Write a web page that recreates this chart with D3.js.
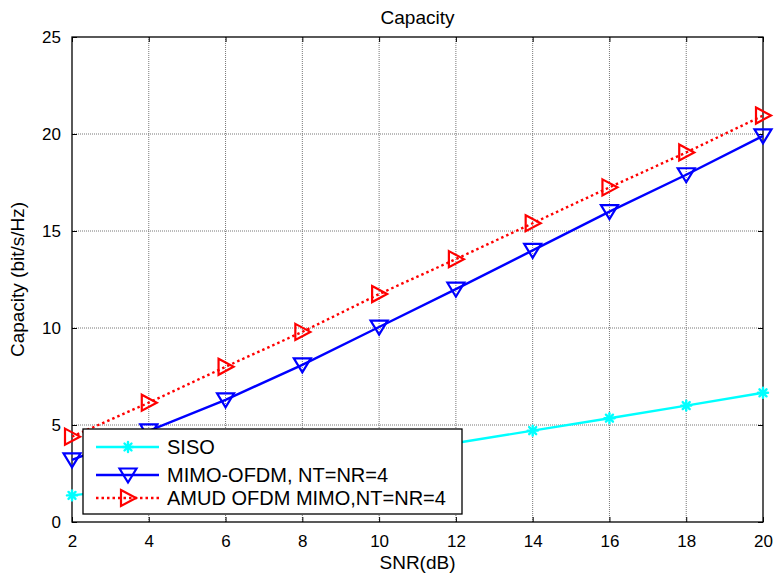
<!DOCTYPE html>
<html>
<head>
<meta charset="utf-8">
<script src="https://cdn.jsdelivr.net/npm/d3@7"></script>
<style>
  html, body { margin: 0; padding: 0; background: #fff; }
  svg { display: block; font-family: Arial, "Liberation Sans", Helvetica, sans-serif; }
</style>
</head>
<body>
<svg id="chart" width="774" height="574"></svg>
<script>
// ---- data ----
const snr = [2, 4, 6, 8, 10, 12, 14, 16, 18, 20];
const siso = [1.37, 1.81, 2.32, 2.87, 3.46, 4.07, 4.71, 5.35, 6.00, 6.66];
const mimoOfdm = [3.2, 4.7, 6.3, 8.1, 10.05, 12.0, 14.0, 16.0, 17.9, 19.9];
const amud = [4.4, 6.15, 8.0, 9.8, 11.75, 13.55, 15.4, 17.25, 19.05, 20.95];
const xTicks = [2, 4, 6, 8, 10, 12, 14, 16, 18, 20];
const yTicks = [0, 5, 10, 15, 20, 25];
const seriesNames = ["SISO", "MIMO-OFDM, NT=NR=4", "AMUD OFDM MIMO,NT=NR=4"];
const titleText = "Capacity";
const xLabel = "SNR(dB)";
const yLabel = "Capacity (bit/s/Hz)";

// ---- layout ----
const svg = d3.select("#chart");
const L = 72, R = 763, T = 37, B = 522;
const x = d3.scaleLinear().domain([2, 20]).range([L, R]);
const y = d3.scaleLinear().domain([0, 25]).range([B, T]);

// grid
const grid = svg.append("g");
grid.selectAll("line.gx").data(xTicks.slice(1, -1)).enter().append("line")
  .attr("x1", d => x(d)).attr("x2", d => x(d)).attr("y1", T).attr("y2", B)
  .attr("stroke", "#777").attr("stroke-width", 1).attr("stroke-dasharray", "1,1");
grid.selectAll("line.gy").data(yTicks.slice(1, -1)).enter().append("line")
  .attr("x1", L).attr("x2", R).attr("y1", d => y(d)).attr("y2", d => y(d))
  .attr("stroke", "#777").attr("stroke-width", 1).attr("stroke-dasharray", "1,1");

// axes with inward ticks
const fs = 17;
const xAxisB = d3.axisBottom(x).tickValues(xTicks).tickSizeInner(-5).tickSizeOuter(0).tickPadding(13);
const gxb = svg.append("g").attr("transform", `translate(0,${B})`).call(xAxisB);
const xAxisT = d3.axisTop(x).tickValues(xTicks).tickSizeInner(-5).tickSizeOuter(0).tickFormat("");
const gxt = svg.append("g").attr("transform", `translate(0,${T})`).call(xAxisT);
const yAxisL = d3.axisLeft(y).tickValues(yTicks).tickSizeInner(-5).tickSizeOuter(0).tickPadding(11);
const gyl = svg.append("g").attr("transform", `translate(${L},0)`).call(yAxisL);
const yAxisR = d3.axisRight(y).tickValues(yTicks).tickSizeInner(-5).tickSizeOuter(0).tickFormat("");
const gyr = svg.append("g").attr("transform", `translate(${R},0)`).call(yAxisR);
[gxb, gxt, gyl, gyr].forEach(g => {
  g.select(".domain").remove();
  g.selectAll(".tick line").attr("stroke", "#000").attr("stroke-width", 1);
  g.selectAll("text").attr("font-size", fs).attr("fill", "#000")
    .attr("font-family", "Arial, 'Liberation Sans', sans-serif");
});
// box
svg.append("rect").attr("x", L).attr("y", T).attr("width", R - L).attr("height", B - T)
  .attr("fill", "none").attr("stroke", "#000").attr("stroke-width", 1.3);

// series
const line = d3.line().x(d => x(d[0])).y(d => y(d[1]));
const series = [
  { name: seriesNames[0], vals: siso, color: "#00FFFF", dash: null, marker: "star" },
  { name: seriesNames[1], vals: mimoOfdm, color: "#0000FF", dash: null, marker: "down" },
  { name: seriesNames[2], vals: amud, color: "#FF0000", dash: "2.5,3", marker: "right" }
];

function drawMarker(g, type, cx, cy, color) {
  if (type === "star") {
    const s = 5;
    const p = g.append("g").attr("stroke", color).attr("stroke-width", 2.4).attr("stroke-linecap", "round");
    p.append("line").attr("x1", cx - s).attr("x2", cx + s).attr("y1", cy).attr("y2", cy);
    p.append("line").attr("x1", cx).attr("x2", cx).attr("y1", cy - s).attr("y2", cy + s);
    p.append("line").attr("x1", cx - s * 0.7).attr("x2", cx + s * 0.7).attr("y1", cy - s * 0.7).attr("y2", cy + s * 0.7);
    p.append("line").attr("x1", cx - s * 0.7).attr("x2", cx + s * 0.7).attr("y1", cy + s * 0.7).attr("y2", cy - s * 0.7);
    g.append("circle").attr("cx", cx).attr("cy", cy).attr("r", 2.5).attr("fill", color);
  } else if (type === "down") {
    const w = 8.5, h = 6.5;
    g.append("path").attr("d", `M${cx - w},${cy - h}L${cx + w},${cy - h}L${cx},${cy + h + 1}Z`)
      .attr("fill", "none").attr("stroke", color).attr("stroke-width", 2.2);
  } else {
    const w = 7, h = 8;
    g.append("path").attr("d", `M${cx - w},${cy - h}L${cx + w + 1},${cy}L${cx - w},${cy + h}Z`)
      .attr("fill", "none").attr("stroke", color).attr("stroke-width", 2.2);
  }
}

series.forEach(s => {
  const pts = snr.map((d, i) => [d, s.vals[i]]);
  const g = svg.append("g");
  g.append("path").datum(pts).attr("d", line).attr("fill", "none")
    .attr("stroke", s.color).attr("stroke-width", 2.4)
    .attr("stroke-dasharray", s.dash);
  pts.forEach(p => drawMarker(g, s.marker, x(p[0]), y(p[1]), s.color));
});

// legend
const lg = svg.append("g");
lg.append("rect").attr("x", 83).attr("y", 429).attr("width", 379).attr("height", 85)
  .attr("fill", "#fff").attr("stroke", "#000").attr("stroke-width", 1.3);
const rowY = [447, 475, 498];
series.forEach((s, i) => {
  const yy = rowY[i];
  lg.append("line").attr("x1", 96).attr("x2", 159).attr("y1", yy).attr("y2", yy)
    .attr("stroke", s.color).attr("stroke-width", 2.4).attr("stroke-dasharray", s.dash);
  drawMarker(lg, s.marker, 128, yy, s.color);
  lg.append("text").attr("x", 167).attr("y", yy + 7).attr("font-size", 20).attr("fill", "#000")
    .text(s.name);
});

// title & labels
svg.append("text").attr("x", (L + R) / 2).attr("y", 24).attr("text-anchor", "middle")
  .attr("font-size", 19).text(titleText);
svg.append("text").attr("x", (L + R) / 2).attr("y", 569).attr("text-anchor", "middle")
  .attr("font-size", 19).text(xLabel);
svg.append("text").attr("transform", `translate(24,${(T + B) / 2}) rotate(-90)`)
  .attr("text-anchor", "middle").attr("font-size", 19).text(yLabel);
</script>
</body>
</html>
